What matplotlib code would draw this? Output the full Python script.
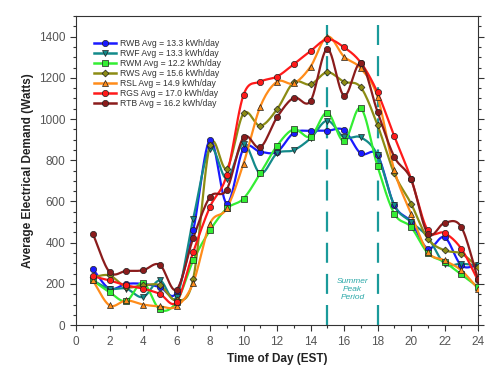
import numpy as np
import matplotlib.pyplot as plt

plt.rcParams['font.family'] = ['Liberation Sans', 'DejaVu Sans']

# hourly values (Watts)
hours = list(range(1, 25))
rwb = [272, 177, 200, 200, 185, 157, 460, 900, 590, 857, 841, 841,
       933, 943, 943, 946, 833, 825, 582, 501, 371, 427, 290, 290]
rwf = [217, 177, 177, 136, 217, 136, 517, 857, 711, 881, 736, 833,
       849, 906, 992, 911, 911, 825, 582, 501, 428, 298, 298, 290]
rwm = [217, 160, 117, 206, 76, 112, 314, 460, 566, 614, 736, 870,
       950, 914, 1031, 893, 1053, 771, 541, 476, 350, 306, 246, 185]
rws = [233, 241, 185, 193, 193, 120, 225, 873, 760, 1027, 967, 1047,
       1178, 1168, 1227, 1181, 1154, 971, 736, 590, 420, 363, 347, 282]
rsl = [217, 96, 120, 100, 91, 91, 206, 493, 566, 784, 1060, 1181,
       1173, 1254, 1400, 1303, 1246, 1108, 752, 541, 355, 314, 266, 177]
rgs = [237, 217, 193, 177, 152, 112, 355, 574, 728, 1117, 1181, 1206,
       1266, 1330, 1387, 1348, 1274, 1129, 917, 711, 460, 447, 371, 217]
rtb = [444, 258, 263, 266, 293, 172, 423, 622, 658, 911, 862, 1008,
       1103, 1087, 1340, 1113, 1270, 1035, 817, 708, 444, 496, 476, 225]

labels = ["RWB Avg = 13.3 kWh/day", "RWF Avg = 13.3 kWh/day",
          "RWM Avg = 12.2 kWh/day", "RWS Avg = 15.6 kWh/day",
          "RSL Avg = 14.9 kWh/day", "RGS Avg = 17.0 kWh/day",
          "RTB Avg = 16.2 kWh/day"]
series = [rwb, rwf, rwm, rws, rsl, rgs, rtb]
colors = ["#1a1aff", "#138a8a", "#33ee33", "#8c8c14", "#ff8c1a", "#ff1a1a", "#8b1c1c"]
markers = ["o", "v", "s", "D", "^", "o", "o"]
msizes = [4.5, 4.5, 4, 3.5, 4.5, 4.5, 4.5]


def smooth(x, y, n=12):
    # catmull-rom curve through the points, only for drawing the line
    x = np.asarray(x, float)
    y = np.asarray(y, float)
    px = np.concatenate([[2 * x[0] - x[1]], x, [2 * x[-1] - x[-2]]])
    py = np.concatenate([[2 * y[0] - y[1]], y, [2 * y[-1] - y[-2]]])
    t = np.linspace(0, 1, n, endpoint=False)
    xs, ys = [], []
    for i in range(1, len(px) - 2):
        for p, out in ((px, xs), (py, ys)):
            p0, p1, p2, p3 = p[i - 1], p[i], p[i + 1], p[i + 2]
            out.extend(0.5 * (2 * p1 + (-p0 + p2) * t
                              + (2 * p0 - 5 * p1 + 4 * p2 - p3) * t ** 2
                              + (-p0 + 3 * p1 - 3 * p2 + p3) * t ** 3))
    xs.append(x[-1])
    ys.append(y[-1])
    return xs, ys


fig = plt.figure(figsize=(5, 3.72), dpi=100)
ax = fig.add_axes([0.152, 0.126, 0.804, 0.831])

for vals, lab, c, m, ms in zip(series, labels, colors, markers, msizes):
    sx, sy = smooth(hours, vals)
    ax.plot(sx, sy, color=c, lw=1.6, zorder=3)
    ax.plot(hours, vals, ls="none", marker=m, ms=ms, mfc=c, mec="#202020",
            mew=0.5, zorder=4)
    ax.plot([], [], color=c, lw=1.8, marker=m, ms=ms, mfc=c, mec="#202020",
            mew=0.5, label=lab)

# summer peak period
for xv in (15, 18):
    ax.axvline(xv, color="#1a9a9a", lw=1.6, ls=(0, (9, 5)), zorder=2)
ax.text(16.5, 175, "Summer\nPeak\nPeriod", color="#2aa8a8", fontsize=6,
        style="italic", ha="center", va="center", linespacing=1.2)

ax.set_xlim(0, 24)
ax.set_ylim(0, 1500)
ax.set_xticks(range(0, 25, 2))
ax.set_xticks(range(0, 25), minor=True)
ax.set_yticks(range(0, 1401, 200))
ax.set_yticks(range(0, 1501, 50), minor=True)
ax.tick_params(which="both", direction="out", colors="#333333",
               labelcolor="#555555", labelsize=8.5, right=True, width=0.8)
ax.tick_params(which="major", length=4)
ax.tick_params(which="minor", length=2)
for s in ax.spines.values():
    s.set_color("#333333")
    s.set_linewidth(0.8)

ax.set_xlabel("Time of Day (EST)", fontsize=8.5, fontweight="bold", color="#222222")
ax.set_ylabel("Average Electrical Demand (Watts)", fontsize=8.5, fontweight="bold",
              color="#222222")

ax.legend(loc="upper left", bbox_to_anchor=(0.045, 0.925), frameon=False,
          fontsize=6.2, handlelength=2.6, labelspacing=0.12, handletextpad=0.4,
          borderaxespad=0, borderpad=0, labelcolor="#333333")

plt.savefig("out.png", dpi=100)
